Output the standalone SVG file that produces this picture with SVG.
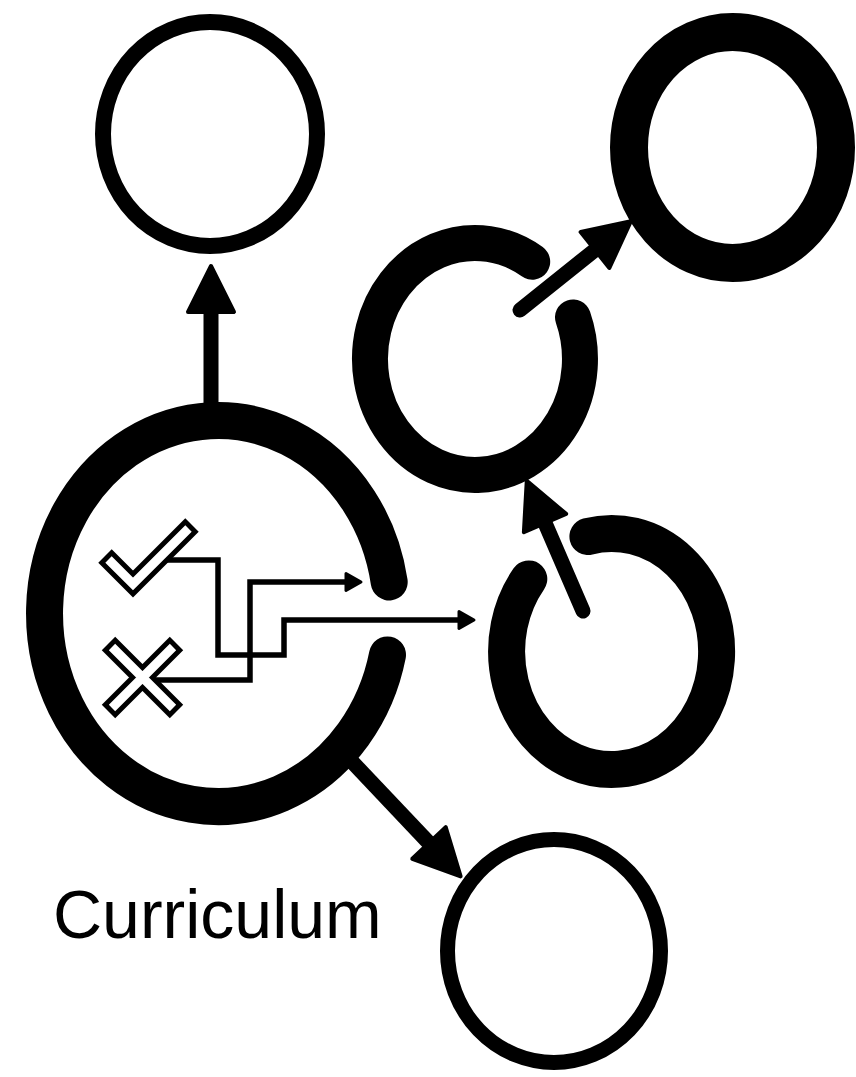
<svg xmlns="http://www.w3.org/2000/svg" width="856" height="1077" viewBox="0 0 856 1077">
<defs>
<style>
.ring{fill:none;stroke:#000;stroke-linecap:round}
.shaft{fill:none;stroke:#000;stroke-width:15}
.step{fill:none;stroke:#000;stroke-width:5.5;stroke-linejoin:miter;stroke-linecap:butt}
.label{font-family:"Liberation Sans",Arial,sans-serif;font-size:68px;fill:#000}
.iconOut{fill:none;stroke:#000;stroke-width:19;stroke-linejoin:miter;stroke-linecap:butt}
.iconIn{fill:none;stroke:#fff;stroke-width:9;stroke-linejoin:miter;stroke-linecap:butt}
</style>
<marker id="bigHead" markerUnits="userSpaceOnUse" markerWidth="60" markerHeight="60" refX="0" refY="0" viewBox="-4 -30 60 60" orient="auto" overflow="visible">
<path d="M0,-23 L46,0 L0,23 Z" fill="#000" stroke="#000" stroke-width="4" stroke-linejoin="round"/>
</marker>
<marker id="smallHead" markerUnits="userSpaceOnUse" markerWidth="24" markerHeight="24" refX="0" refY="0" viewBox="-3 -12 24 24" orient="auto" overflow="visible">
<path d="M0,-8.5 L15,0 L0,8.5 Z" fill="#000" stroke="#000" stroke-width="3" stroke-linejoin="round"/>
</marker>
</defs>
<rect width="856" height="1077" fill="#fff"/>

<g id="connectors">
<line class="shaft" x1="211" y1="412" x2="211" y2="312" marker-end="url(#bigHead)"/>
<line class="shaft" x1="340" y1="749" x2="429" y2="843" marker-end="url(#bigHead)"/>
<line class="shaft" x1="520" y1="310" x2="595" y2="250" stroke-linecap="round" marker-end="url(#bigHead)"/>
<line class="shaft" x1="583" y1="611" x2="545" y2="523" stroke-linecap="round" marker-end="url(#bigHead)"/>
<path class="step" d="M160,560 H218 V655 H284 V620 H459" marker-end="url(#smallHead)"/>
<path class="step" d="M150,680 H250 V582 H346" marker-end="url(#smallHead)"/>
</g>

<g id="node-top-left">
<ellipse class="ring" cx="210" cy="134" rx="107" ry="112" stroke-width="16"/>
</g>

<g id="node-top-right">
<ellipse class="ring" cx="732.5" cy="147.5" rx="103.5" ry="115.5" stroke-width="38"/>
</g>

<g id="node-mid-right">
<path class="ring" d="M573.0,317.4 A105,116 0 1 1 532.2,261.7" stroke-width="36"/>
</g>

<g id="node-bottom-right">
<path class="ring" d="M587.9,536.5 A105,118 0 1 1 528.8,578.9" stroke-width="37"/>
</g>

<g id="node-curriculum">
<path class="ring" d="M387.5,654.9 A173.5,193 0 1 1 389.2,582.0" stroke-width="37"/>
<g id="icon-check">
<path class="iconOut" d="M105,556 L133,584 L192,525"/>
<path class="iconIn" d="M108.5,559.5 L133,584 L188.5,528.5"/>
</g>
<g id="icon-cross">
<path class="iconOut" d="M108.5,643.5 L176.5,711.5 M176.5,643.5 L108.5,711.5"/>
<path class="iconIn" d="M112,647 L173,708 M173,647 L112,708"/>
</g>
<text class="label" x="53" y="938">Curriculum</text>
</g>

<g id="node-bottom">
<ellipse class="ring" cx="554" cy="951" rx="106.5" ry="111.5" stroke-width="15"/>
</g>
</svg>
